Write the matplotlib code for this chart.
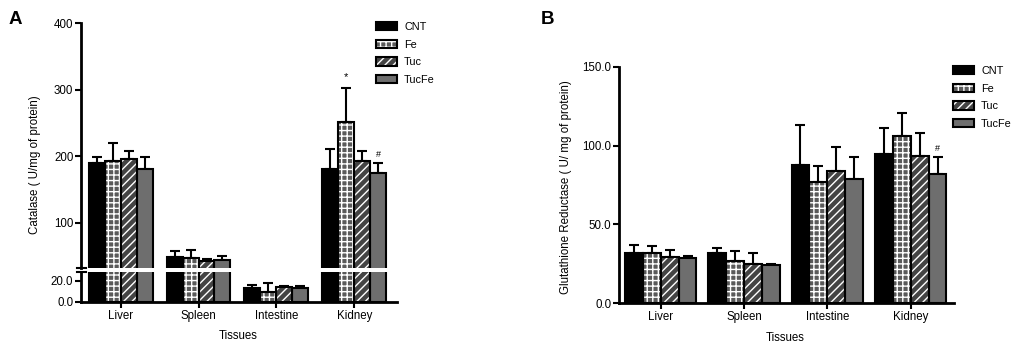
import matplotlib
matplotlib.use('Agg')
import matplotlib.pyplot as plt
from matplotlib.patches import Patch
from matplotlib.lines import Line2D
import numpy as np

# data
tissues = ['Liver', 'Spleen', 'Intestine', 'Kidney']
groups = ['CNT', 'Fe', 'Tuc', 'TucFe']

cat_cnt = [189, 49, 13, 180]
cat_fe = [192, 47, 9.5, 252]
cat_tuc = [195, 43, 14, 192]
cat_tucfe = [181, 44, 13, 174]
cat_cnt_err = [9, 9, 3, 31]
cat_fe_err = [28, 12, 8.5, 51]
cat_tuc_err = [13, 3, 1.5, 15]
cat_tucfe_err = [17, 6, 2, 16]

gr_cnt = [32, 32, 88, 94.5]
gr_fe = [32, 27, 77, 106]
gr_tuc = [29, 25, 84, 93.5]
gr_tucfe = [28.6, 24, 79, 82]
gr_cnt_err = [5, 3, 25, 16.5]
gr_fe_err = [4, 6, 10, 15]
gr_tuc_err = [5, 6.5, 15, 14.5]
gr_tucfe_err = [1.4, 1, 14, 11]

# style
plt.rcParams['font.family'] = ['Liberation Sans', 'DejaVu Sans']
plt.rcParams['hatch.color'] = 'white'
plt.rcParams['hatch.linewidth'] = 1.0
fills = ['black', '#5a5a5a', '#444444', '#6e6e6e']
hatches = [None, '+++', '////', None]
fs = 7.5
tfs = 8.3
W, H = 1024, 350


def box(l, t, r, b):
    return [l / W, 1 - b / H, (r - l) / W, (b - t) / H]


def draw_bars(ax, means, errs, width):
    x = np.arange(len(tissues))
    offs = (np.arange(len(groups)) - 1.5) * width
    for k in range(len(groups)):
        xs = x + offs[k]
        ax.bar(xs, means[k], width, color=fills[k], edgecolor='white',
               linewidth=0, hatch=hatches[k], zorder=2)
        ax.bar(xs, means[k], width, fill=False, edgecolor='black',
               linewidth=1.5, zorder=3)
        ax.errorbar(xs, means[k], yerr=[np.zeros(len(xs)), errs[k]],
                    fmt='none', ecolor='black', elinewidth=1.5, capsize=3.5,
                    capthick=1.5, zorder=1)
    return offs


def style(ax, bottom=True):
    for s in ['top', 'right']:
        ax.spines[s].set_visible(False)
    ax.spines['left'].set_linewidth(2)
    ax.spines['bottom'].set_linewidth(2)
    if not bottom:
        ax.spines['bottom'].set_visible(False)
    ax.tick_params(axis='both', width=1.5, length=4, labelsize=tfs, pad=1.5)


def add_legend(fig, x, y):
    handles = []
    for k in range(len(groups)):
        handles.append((Patch(facecolor=fills[k], edgecolor='white', linewidth=0,
                              hatch=hatches[k]),
                        Patch(fill=False, edgecolor='black', linewidth=1.5)))
    fig.legend(handles, groups, loc='upper left', bbox_to_anchor=(x / W, 1 - y / H),
               frameon=False, fontsize=fs + 0.3, handlelength=1.9, handleheight=0.8,
               labelspacing=0.7, handletextpad=0.7, borderpad=0, borderaxespad=0)


fig = plt.figure(figsize=(10.24, 3.5), dpi=100)

# panel A, broken axis
cat_means = [cat_cnt, cat_fe, cat_tuc, cat_tucfe]
cat_errs = [cat_cnt_err, cat_fe_err, cat_tuc_err, cat_tucfe_err]
ax_up = fig.add_axes(box(81, 23, 397, 268))
ax_lo = fig.add_axes(box(81, 271.5, 397, 302))
for ax in (ax_up, ax_lo):
    offs = draw_bars(ax, cat_means, cat_errs, 0.205)
    ax.set_xlim(-0.51, 3.55)
ax_up.set_ylim(32, 400)
ax_up.set_yticks([100, 200, 300, 400])
ax_up.set_xticks([])
ax_lo.set_ylim(0, 29)
ax_lo.set_yticks([0, 20])
ax_lo.set_yticklabels(['0.0', '20.0'])
ax_lo.set_xticks(range(len(tissues)))
ax_lo.set_xticklabels(tissues)
style(ax_up, bottom=False)
style(ax_lo)
ax_up.text(3 + offs[1], cat_fe[3] + cat_fe_err[3] + 8, '*', ha='center',
           va='bottom', fontsize=fs + 0.5)
ax_up.text(3 + offs[3], cat_tucfe[3] + cat_tucfe_err[3] + 5, '#', ha='center',
           va='bottom', fontsize=fs - 1)
for yy in (267.5, 271.5):
    fig.add_artist(Line2D([77 / W, 86 / W], [1 - yy / H, 1 - yy / H],
                          color='black', linewidth=1.5))
fig.text(35 / W, 1 - 165 / H, 'Catalase ( U/mg of protein)', rotation=90,
         ha='center', va='center', fontsize=tfs)
fig.text(238 / W, 1 - 336 / H, 'Tissues', ha='center', va='center', fontsize=tfs)
fig.text(15 / W, 1 - 20 / H, 'A', ha='center', va='center', fontsize=13.5,
         fontweight='bold')
add_legend(fig, 376, 22)

# panel B
gr_means = [gr_cnt, gr_fe, gr_tuc, gr_tucfe]
gr_errs = [gr_cnt_err, gr_fe_err, gr_tuc_err, gr_tucfe_err]
axb = fig.add_axes(box(619, 67, 954, 303))
offs = draw_bars(axb, gr_means, gr_errs, 0.215)
axb.set_xlim(-0.5, 3.52)
axb.set_ylim(0, 150)
axb.set_yticks([0, 50, 100, 150])
axb.set_yticklabels(['0.0', '50.0', '100.0', '150.0'])
axb.set_xticks(range(len(tissues)))
axb.set_xticklabels(tissues)
style(axb)
axb.text(3 + offs[3], gr_tucfe[3] + gr_tucfe_err[3] + 2.5, '#', ha='center',
         va='bottom', fontsize=fs - 1)
fig.text(566 / W, 1 - 187 / H, 'Glutathione Reductase ( U/ mg of protein)',
         rotation=90, ha='center', va='center', fontsize=tfs)
fig.text(785 / W, 1 - 338 / H, 'Tissues', ha='center', va='center', fontsize=tfs)
fig.text(548 / W, 1 - 20 / H, 'B', ha='center', va='center', fontsize=13.5,
         fontweight='bold')
add_legend(fig, 953, 66)

fig.savefig('out.png', dpi=100)
